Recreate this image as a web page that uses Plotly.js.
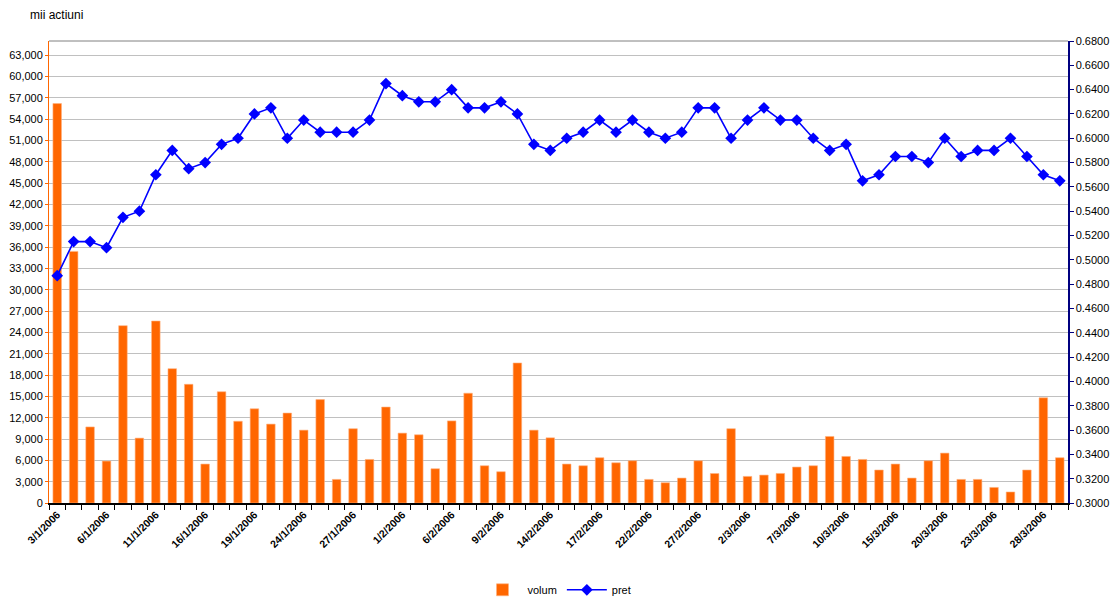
<!DOCTYPE html>
<html>
<head>
<meta charset="utf-8">
<script src="https://cdn.plot.ly/plotly-3.0.1.min.js"></script>
<style>html,body{margin:0;padding:0;background:#fff;}#chart{width:1114px;height:600px;}</style>
</head>
<body>
<div id="chart"></div>
<script>
// Trading days (d/m/yyyy)
const dates = [
"3/1/2006","4/1/2006","5/1/2006","6/1/2006","9/1/2006","10/1/2006","11/1/2006","12/1/2006","13/1/2006",
"16/1/2006","17/1/2006","18/1/2006","19/1/2006","20/1/2006","23/1/2006","24/1/2006","25/1/2006","26/1/2006","27/1/2006",
"30/1/2006","31/1/2006","1/2/2006","2/2/2006","3/2/2006","6/2/2006","7/2/2006","8/2/2006","9/2/2006","10/2/2006",
"13/2/2006","14/2/2006","15/2/2006","16/2/2006","17/2/2006","20/2/2006","21/2/2006","22/2/2006","23/2/2006","24/2/2006",
"27/2/2006","28/2/2006","1/3/2006","2/3/2006","3/3/2006","6/3/2006","7/3/2006","8/3/2006","9/3/2006","10/3/2006",
"13/3/2006","14/3/2006","15/3/2006","16/3/2006","17/3/2006","20/3/2006","21/3/2006","22/3/2006","23/3/2006","24/3/2006",
"27/3/2006","28/3/2006","29/3/2006"
];
// volum (mii actiuni)
const volum = [
56200,35400,10700,5900,24950,9130,25600,18900,16700,
5480,15650,11500,13250,11100,12650,10250,14550,3320,10450,
6130,13500,9830,9600,4820,11550,15450,5240,4400,19700,
10250,9170,5480,5240,6370,5660,5940,3320,2850,3510,
5940,4150,10450,3740,3930,4160,5060,5240,9360,6550,
6130,4640,5480,3510,5940,7020,3320,3320,2190,1550,
4640,14800,6370
];
// pret
const pret = [
0.487,0.515,0.515,0.510,0.535,0.540,0.570,0.590,0.575,
0.580,0.595,0.600,0.620,0.625,0.600,0.615,0.605,0.605,0.605,
0.615,0.645,0.635,0.630,0.630,0.640,0.625,0.625,0.630,0.620,
0.595,0.590,0.600,0.605,0.615,0.605,0.615,0.605,0.600,0.605,
0.625,0.625,0.600,0.615,0.625,0.615,0.615,0.600,0.590,0.595,
0.565,0.570,0.585,0.585,0.580,0.600,0.585,0.590,0.590,0.600,
0.585,0.570,0.565
];
const tickText = dates.map((d, i) => (i % 3 === 0 ? d : ""));

const font = "Liberation Sans, Arial, sans-serif";

const traces = [
  {
    type: "bar", name: "volum", x: dates, y: volum,
    marker: {color: "#FF6600", line: {color: "#FFB27F", width: 0.6}},
    yaxis: "y", hoverinfo: "x+y"
  },
  {
    type: "scatter", mode: "lines+markers", name: "pret", x: dates, y: pret,
    yaxis: "y2",
    line: {color: "#0000FF", width: 1.6},
    marker: {symbol: "diamond", size: 9, color: "#0000FF"}
  }
];

const layout = {
  width: 1114, height: 600,
  margin: {l: 49, r: 46, t: 41, b: 97, autoexpand: false},
  paper_bgcolor: "#fff", plot_bgcolor: "#fff",
  font: {family: font, size: 11, color: "#000"},
  bargap: 0.48,
  showlegend: true,
  legend: {orientation: "h", x: 0.5, xanchor: "center", xref: "container",
           y: 0.017, yanchor: "middle", yref: "container",
           itemwidth: 40,
           font: {family: font, size: 11, color: "#000"}},
  xaxis: {
    type: "category", tickmode: "array", tickvals: dates, ticktext: tickText,
    tickson: "boundaries", ticks: "outside", ticklen: 5, tickcolor: "#000",
    tickangle: -45, tickfont: {family: font, size: 10.5, color: "#000", weight: "bold"},
    showline: true, linecolor: "#000", linewidth: 1.5, showgrid: false, zeroline: false,
    automargin: false,
    range: [-0.5, dates.length - 0.5]
  },
  yaxis: {
    range: [0, 65000], dtick: 3000, tick0: 0, tickformat: ",d",
    showgrid: true, gridcolor: "#C0C0C0", gridwidth: 1,
    showline: true, linecolor: "#FF6600", linewidth: 1,
    ticks: "outside", ticklen: 3, tickcolor: "#FF6600",
    zeroline: false, automargin: false,
    tickfont: {family: font, size: 11, color: "#000"}
  },
  yaxis2: {
    overlaying: "y", side: "right",
    range: [0.30, 0.68], dtick: 0.02, tick0: 0.30, tickformat: ".4f",
    showgrid: false, showline: true, linecolor: "#000080", linewidth: 1.5,
    ticks: "outside", ticklen: 4, tickcolor: "#000080",
    zeroline: false, automargin: false,
    tickfont: {family: font, size: 11, color: "#000"}
  },
  shapes: [
    {type: "line", xref: "paper", yref: "paper", x0: 0, x1: 1, y0: 1, y1: 1,
     line: {color: "#808080", width: 1}}
  ],
  annotations: [
    {text: "mii actiuni", xref: "paper", yref: "paper", x: -0.0206, y: 1.056,
     xanchor: "left", yanchor: "middle", showarrow: false,
     font: {family: font, size: 12, color: "#000"}}
  ]
};

Plotly.newPlot("chart", traces, layout, {displayModeBar: false, staticPlot: true});
</script>
</body>
</html>
